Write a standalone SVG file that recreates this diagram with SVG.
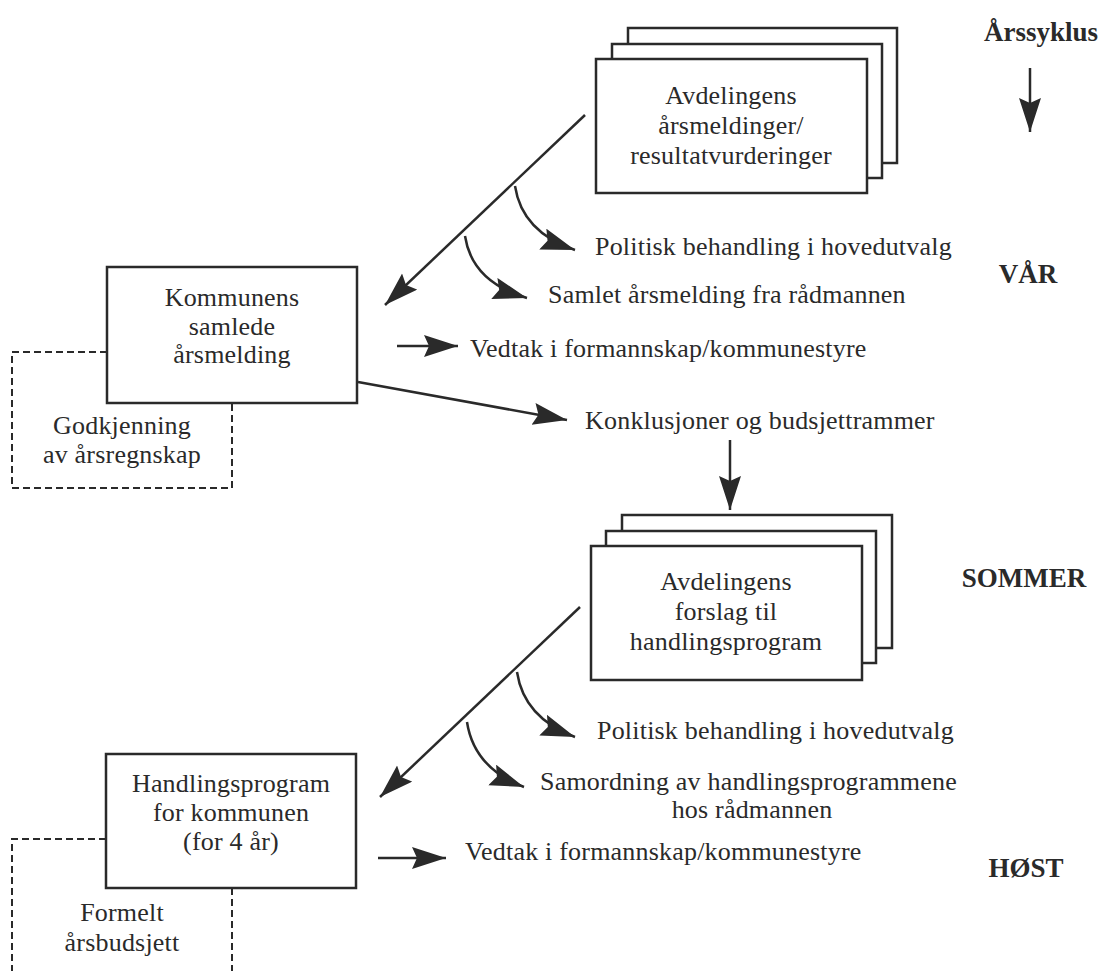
<svg xmlns="http://www.w3.org/2000/svg" width="1112" height="971" viewBox="0 0 1112 971">
<style>
text{font-family:"Liberation Serif","Times New Roman",serif;font-size:26px;letter-spacing:0.2px;fill:#2a2a2a}
.c{text-anchor:middle}
.b{font-weight:bold;font-size:27px;text-anchor:middle;letter-spacing:0}
.box{fill:#fff;stroke:#2a2a2a;stroke-width:2.5}
.dash{fill:none;stroke:#2a2a2a;stroke-width:2;stroke-dasharray:7,4}
.ln{fill:none;stroke:#2a2a2a;stroke-width:2.5}
</style>
<defs>
<marker id="ah" markerUnits="userSpaceOnUse" markerWidth="40" markerHeight="30" refX="34" refY="11" orient="auto">
<path d="M0,0 L34,11 L0,22 L5,11 Z" fill="#2a2a2a"/>
</marker>
</defs>
<rect width="1112" height="971" fill="#fff"/>
<g id="connectors">
<line class="ln" x1="585" y1="115" x2="385" y2="305" marker-end="url(#ah)"/>
<path class="ln" d="M515,186 Q522,232 575,250" marker-end="url(#ah)"/>
<path class="ln" d="M465,236 Q472,282 527,298" marker-end="url(#ah)"/>
<line class="ln" x1="397" y1="346" x2="458" y2="346" marker-end="url(#ah)"/>
<line class="ln" x1="358" y1="382" x2="567" y2="420" marker-end="url(#ah)"/>
<line class="ln" x1="730" y1="440" x2="730" y2="510" marker-end="url(#ah)"/>
<line class="ln" x1="580" y1="607" x2="380" y2="797" marker-end="url(#ah)"/>
<path class="ln" d="M517,672 Q524,718 575,737" marker-end="url(#ah)"/>
<path class="ln" d="M467,722 Q474,768 524,787" marker-end="url(#ah)"/>
<line class="ln" x1="378" y1="858" x2="446" y2="858" marker-end="url(#ah)"/>
<line class="ln" x1="1030" y1="68" x2="1030" y2="132" marker-end="url(#ah)"/>
</g>
<g id="stack1">
<rect class="box" x="628" y="28" width="269" height="135"/>
<rect class="box" x="612" y="44" width="270" height="134"/>
<rect class="box" x="596" y="59" width="271" height="134"/>
<text class="c" x="731" y="104">Avdelingens</text>
<text class="c" x="731" y="134">årsmeldinger/</text>
<text class="c" x="731" y="164">resultatvurderinger</text>
</g>
<g id="godkjenning">
<path class="dash" d="M107,352 H12 V488 H232 V403"/>
<text class="c" x="122" y="434">Godkjenning</text>
<text class="c" x="122" y="463">av årsregnskap</text>
</g>
<g id="kommunens">
<rect class="box" x="107" y="267" width="250" height="136"/>
<text class="c" x="232" y="306">Kommunens</text>
<text class="c" x="232" y="335">samlede</text>
<text class="c" x="232" y="363">årsmelding</text>
</g>
<g id="labels1">
<text x="595" y="255">Politisk behandling i hovedutvalg</text>
<text x="548" y="303">Samlet årsmelding fra rådmannen</text>
<text x="470" y="357">Vedtak i formannskap/kommunestyre</text>
<text x="585" y="429">Konklusjoner og budsjettrammer</text>
</g>
<g id="stack2">
<rect class="box" x="622" y="515" width="270" height="133"/>
<rect class="box" x="606" y="531" width="270" height="132"/>
<rect class="box" x="591" y="546" width="271" height="134"/>
<text class="c" x="726" y="590">Avdelingens</text>
<text class="c" x="726" y="620">forslag til</text>
<text class="c" x="726" y="650">handlingsprogram</text>
</g>
<g id="formelt">
<path class="dash" d="M106,839 H12 V971 M232,888 V971"/>
<text class="c" x="122" y="921">Formelt</text>
<text class="c" x="122" y="951">årsbudsjett</text>
</g>
<g id="handlingsprogram">
<rect class="box" x="106" y="754" width="250" height="134"/>
<text class="c" x="231" y="792">Handlingsprogram</text>
<text class="c" x="231" y="821">for kommunen</text>
<text class="c" x="231" y="850">(for 4 år)</text>
</g>
<g id="labels2">
<text x="597" y="739">Politisk behandling i hovedutvalg</text>
<text x="540" y="790">Samordning av handlingsprogrammene</text>
<text class="c" x="752" y="818">hos rådmannen</text>
<text x="465" y="860">Vedtak i formannskap/kommunestyre</text>
</g>
<g id="seasons">
<text class="b" x="1041" y="41" font-size="26">Årssyklus</text>
<text class="b" x="1028" y="283">VÅR</text>
<text class="b" x="1024" y="587" letter-spacing="2">SOMMER</text>
<text class="b" x="1026" y="877">HØST</text>
</g>
</svg>
